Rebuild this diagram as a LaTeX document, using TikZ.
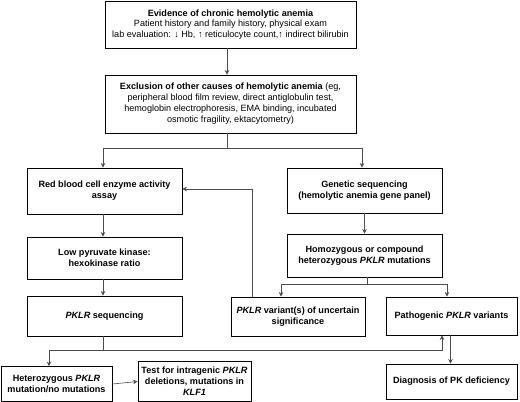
\documentclass[tikz,border=0pt]{standalone}
\usepackage{fontspec}
\setmainfont{Liberation Sans}
\usetikzlibrary{arrows.meta}
\begin{document}
\begin{tikzpicture}[x=1pt,y=-1pt,
  box/.style={draw=black,line width=0.9pt,align=center,inner sep=0pt,
    font=\fontsize{9.1}{11}\selectfont\bfseries},
  conn/.style={draw=black!70,line width=0.6pt},
  arr/.style={conn,-{Stealth[length=4.5pt,width=4.5pt]}}]
\useasboundingbox (0,0) rectangle (520,402);
\node[box,minimum width=251pt,minimum height=47pt,font=\fontsize{9.1}{10.6}\selectfont] (b1) at (230.5,24.5)
  {\textbf{Evidence of chronic hemolytic anemia}\\Patient history and family history, physical exam\\lab evaluation: ↓ Hb, ↑ reticulocyte count,↑ indirect bilirubin};
\node[box,minimum width=251pt,minimum height=58pt,font=\fontsize{9.1}{11}\selectfont] (b2) at (230.5,104)
  {\textbf{Exclusion of other causes of hemolytic anemia} (eg,\\peripheral blood film review, direct antiglobulin test,\\hemoglobin electrophoresis, EMA binding, incubated\\osmotic fragility, ektacytometry)};
\node[box,minimum width=155pt,minimum height=46pt] (rbc) at (104.5,191) {Red blood cell enzyme activity\\assay};
\node[box,minimum width=155pt,minimum height=45pt] (gen) at (364.5,190.5) {Genetic sequencing\\(hemolytic anemia gene panel)};
\node[box,minimum width=155pt,minimum height=42pt] (low) at (104.5,258) {Low pyruvate kinase:\\hexokinase ratio};
\node[box,minimum width=155pt,minimum height=43pt] (homo) at (364.5,255.5) {Homozygous or compound\\heterozygous \textit{PKLR} mutations};
\node[box,minimum width=134pt,minimum height=39pt] (vus) at (298,316.5) {\textit{PKLR} variant(s) of uncertain\\significance};
\node[box,minimum width=131pt,minimum height=38pt] (path) at (451.5,316) {Pathogenic \textit{PKLR} variants};
\node[box,minimum width=155pt,minimum height=40pt] (pk) at (104.5,316) {\textit{PKLR} sequencing};
\node[box,minimum width=111pt,minimum height=35pt] (het) at (56.5,384) {Heterozygous \textit{PKLR}\\mutation/no mutations};
\node[box,minimum width=113pt,minimum height=40pt] (test) at (194.5,381.5) {Test for intragenic \textit{PKLR}\\deletions, mutations in\\\textit{KLF1}};
\node[box,minimum width=131pt,minimum height=35pt] (diag) at (451.5,381.5) {Diagnosis of PK deficiency};
\coordinate (s1) at (227,148);
\coordinate (s2) at (367,284);
\coordinate (s3) at (103,350);
\draw[arr] (b1.south -| s1) -- (b2.north -| s1);
\draw[conn] (b2.south -| s1) -- (s1);
\draw[arr] (s1) -| ([xshift=-1.5pt]rbc.north);
\draw[arr] (s1) -| ([xshift=-2.5pt]gen.north);
\draw[arr] ([xshift=-1.5pt]rbc.south) -- ([xshift=-1.5pt]low.north);
\draw[arr] (gen.south) -- (homo.north);
\draw[conn] (homo.south -| s2) -- (s2);
\draw[arr] (s2) -| ([xshift=-17pt]vus.north);
\draw[arr] (s2) -| ([xshift=-4.5pt]path.north);
\draw[arr] ([xshift=-46pt]vus.north) |- ([yshift=2pt]rbc.east);
\draw[arr] ([xshift=-1.5pt]low.south) -- ([xshift=-1.5pt]pk.north);
\draw[conn] (pk.south -| s3) -- (s3);
\draw[arr] (s3) -| ([xshift=-7.5pt]het.north);
\draw[arr] (s3) -| ([xshift=-9.5pt]path.south);
\draw[arr] ([xshift=-1pt]path.south) -- ([xshift=-1pt]diag.north);
\draw[arr] (het.east) -- (test.west);
\end{tikzpicture}
\end{document}
